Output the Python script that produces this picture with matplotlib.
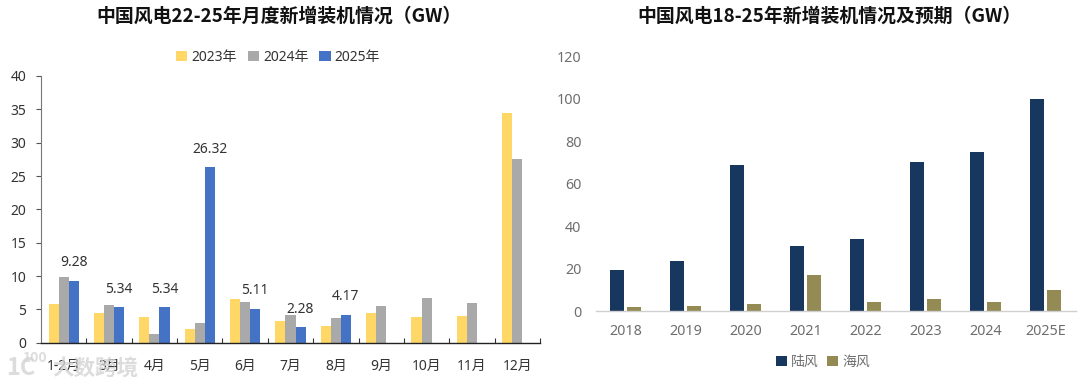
import matplotlib
matplotlib.use("Agg")
import matplotlib.pyplot as plt
import numpy as np

plt.rcParams['font.family'] = ['Noto Sans', 'Noto Sans CJK SC', 'DejaVu Sans']
CJK = ['Noto Sans CJK SC', 'DejaVu Sans']

months = ['1-2月', '3月', '4月', '5月', '6月', '7月', '8月', '9月', '10月', '11月', '12月']
y2023 = [5.8, 4.5, 3.8, 2.1, 6.6, 3.3, 2.5, 4.5, 3.8, 4.0, 34.5]
y2024 = [9.9, 5.6, 1.3, 2.9, 6.1, 4.1, 3.7, 5.5, 6.7, 5.9, 27.6]
y2025 = [9.28, 5.34, 5.34, 26.32, 5.11, 2.28, 4.17]
left_yticks = [0, 5, 10, 15, 20, 25, 30, 35, 40]

years = ['2018', '2019', '2020', '2021', '2022', '2023', '2024', '2025E']
onshore = [19.3, 23.8, 68.6, 30.7, 33.9, 70, 75, 100]
offshore = [1.9, 2.4, 3.3, 17, 4.2, 6, 4.2, 10]
right_yticks = [0, 20, 40, 60, 80, 100, 120]

W, H = 1080, 387
fig = plt.figure(figsize=(W / 100, H / 100), dpi=100, facecolor='white')


def px_axes(x0, x1, ytop, ybottom):
    return fig.add_axes([x0 / W, 1 - ybottom / H, (x1 - x0) / W, (ybottom - ytop) / H])


# left chart
ax = px_axes(41, 540, 76, 342.7)
x = np.arange(len(months))
bw = 0.222
c23, c24, c25 = '#FFD766', '#A9A9A9', '#4472C4'
b1 = ax.bar(x - bw, y2023, bw, color=c23, label='2023年')
b2 = ax.bar(x, y2024, bw, color=c24, label='2024年')
b3 = ax.bar(np.arange(len(y2025)) + bw, y2025, bw, color=c25, label='2025年')
for xi, v in zip(np.arange(len(y2025)) + bw, y2025):
    ax.annotate(f'{v:.2f}', (xi, v), xytext=(0, 13), textcoords='offset points',
                ha='center', va='center', fontsize=10, color='#333333')
ax.set_xlim(-0.5, len(months) - 0.5)
ax.set_ylim(0, 40)
ax.set_yticks(left_yticks)
ax.set_xticks(x)
ax.set_xticklabels(months)
ax.set_xticks(np.arange(len(months)) + 0.5, minor=True)
ax.tick_params(axis='x', which='major', length=0, labelsize=10, labelcolor='#333333', pad=12)
ax.tick_params(axis='x', which='minor', length=3.6, direction='in', color='#333333', width=0.8)
ax.tick_params(axis='y', length=3.6, direction='out', labelsize=10, labelcolor='#333333',
               color='#555555', width=0.8, pad=7)
for s in ['top', 'right']:
    ax.spines[s].set_visible(False)
ax.spines['left'].set_color('#777777')
ax.spines['bottom'].set_color('#222222')
ax.spines['bottom'].set_linewidth(1.0)
fig.text(279.5 / W, 1 - 16 / H, '中国风电22-25年月度新增装机情况（GW）', ha='center', va='center',
         fontsize=13.6, fontweight='bold', color='#111111', family=CJK)
fig.legend(handles=[b1, b2, b3], loc='center', bbox_to_anchor=(278 / W, 1 - 57.5 / H), ncol=3,
           frameon=False, fontsize=10, labelcolor='#333333', handlelength=0.8, handleheight=0.8,
           handletextpad=0.3, columnspacing=0.8, borderpad=0)

# right chart
ax2 = px_axes(595.5, 1075.5, 56, 311.3)
x2 = np.arange(len(years))
bw2 = 0.24
gap = 0.02
b4 = ax2.bar(x2 - bw2 / 2 - gap, onshore, bw2, color='#17375E', label='陆风')
b5 = ax2.bar(x2 + bw2 / 2 + gap, offshore, bw2, color='#948A54', label='海风')
ax2.set_xlim(-0.5, len(years) - 0.5)
ax2.set_ylim(0, 120)
ax2.set_yticks(right_yticks)
ax2.set_xticks(x2)
ax2.set_xticklabels(years)
ax2.tick_params(axis='x', length=0, labelsize=10.3, labelcolor='#6E6E6E', pad=9.5)
ax2.tick_params(axis='y', length=0, labelsize=10.3, labelcolor='#6E6E6E', pad=10)
for s in ['top', 'right', 'left']:
    ax2.spines[s].set_visible(False)
ax2.spines['bottom'].set_color('#D0D0D0')
ax2.spines['bottom'].set_linewidth(1.0)
fig.text(829 / W, 1 - 16 / H, '中国风电18-25年新增装机情况及预期（GW）', ha='center', va='center',
         fontsize=13.6, fontweight='bold', color='#111111', family=CJK)
fig.legend(handles=[b4, b5], loc='center', bbox_to_anchor=(823 / W, 1 - 362.5 / H), ncol=2,
           frameon=False, fontsize=10, labelcolor='#6E6E6E', handlelength=0.8, handleheight=0.8,
           handletextpad=0.3, columnspacing=0.6, borderpad=0)

# watermark
wm = dict(ha='center', va='center', fontweight='bold', color='#D4D4D4', alpha=0.8, zorder=10, family=CJK)
fig.text(95 / W, 1 - 369 / H, '大数跨境', fontsize=15.5, **wm)
fig.text(21 / W, 1 - 368 / H, '1C', fontsize=17, **wm)
fig.text(35 / W, 1 - 358 / H, '100', fontsize=10, **wm)

fig.savefig('out.png', dpi=100, facecolor='white')
